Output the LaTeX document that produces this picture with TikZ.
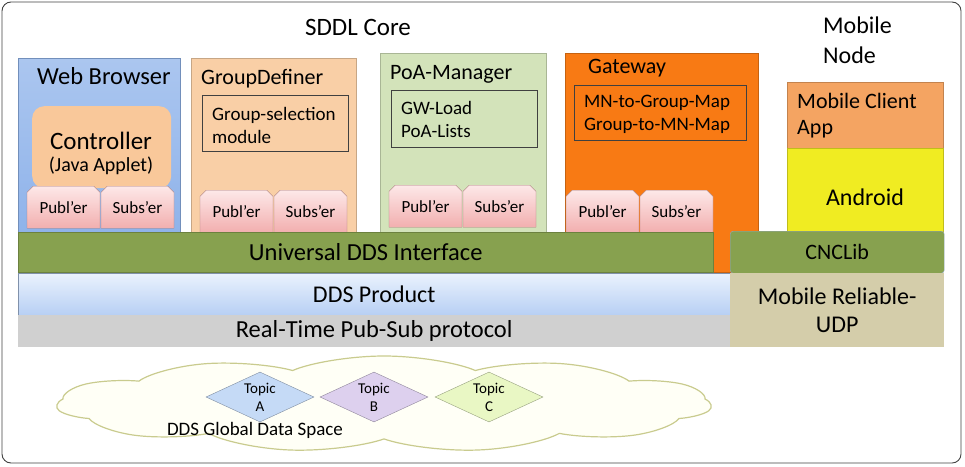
\documentclass[tikz,border=0pt]{standalone}
\usepackage{fontspec}
\setmainfont{Carlito}
\usetikzlibrary{shapes.geometric,shapes.misc,shapes.symbols}
\definecolor{webblue}{HTML}{8FB3EA}
\definecolor{ctrlpeach}{HTML}{F9C89A}
\definecolor{gdpeach}{HTML}{F9CFA6}
\definecolor{poagreen}{HTML}{D3E3BA}
\definecolor{gworange}{HTML}{F87A14}
\definecolor{pubtop}{HTML}{FDE8E8}
\definecolor{pubbot}{HTML}{F2AFAF}
\definecolor{unigreen}{HTML}{87A14F}
\definecolor{ddstop}{HTML}{EAF2FD}
\definecolor{ddsbot}{HTML}{B7CFF4}
\definecolor{rtgray}{HTML}{D0D0D0}
\definecolor{mrudp}{HTML}{D4CDAA}
\definecolor{appor}{HTML}{F4A462}
\definecolor{andyel}{HTML}{F0EC22}
\definecolor{cloudline}{HTML}{C9CB8E}
\definecolor{cloudfill}{HTML}{FFFFF6}
\definecolor{topicA}{HTML}{C5DAF6}
\definecolor{topicB}{HTML}{DDD0EE}
\definecolor{topicC}{HTML}{E9F7C4}
\tikzset{
  big/.style={font=\fontsize{24}{28}\selectfont, inner sep=0pt},
  title/.style={font=\fontsize{22}{26}\selectfont, inner sep=0pt, anchor=west, align=left},
  mid/.style={font=\fontsize{19}{23}\selectfont, inner sep=0pt},
  part/.style={draw=#1!80!black, fill=#1, inner sep=0pt, anchor=north west},
  inbox/.style={draw=black!75, line width=0.8pt, inner sep=0pt, anchor=north west},
  tab/.style={chamfered rectangle, chamfered rectangle corners={north west, north east},
    chamfered rectangle xsep=3pt, draw=pubbot!70!black, top color=pubtop, bottom color=pubbot,
    minimum width=73pt, minimum height=42pt, inner sep=0pt, anchor=north,
    font=\fontsize{17}{20}\selectfont},
  bar/.style={inner sep=0pt, anchor=north west, font=\fontsize{24.5}{28}\selectfont, align=center},
  topic/.style={diamond, aspect=2.1, minimum width=108pt, minimum height=50pt, inner sep=0pt,
    draw=#1!65!black, fill=#1, align=center, font=\fontsize{15}{18}\selectfont}
}
\begin{document}
\begin{tikzpicture}[x=1pt,y=-1pt]
  \useasboundingbox (0,0) rectangle (965,466);
  \draw[rounded corners=9pt, draw=black!75, line width=0.9pt] (2,2) rectangle (961,463);
  \node[big, font=\fontsize{25}{28}\selectfont] (sddl) at (358,27) {SDDL Core};
  \node[title, font=\fontsize{24}{30}\selectfont] (mobnode) at (823,40) {Mobile\\Node};

  \node[part=webblue, top color=webblue!75!white, bottom color=webblue, minimum width=162pt,
    minimum height=175pt] (web) at (18,58) {};
  \node[part=gdpeach, minimum width=165pt, minimum height=175pt] (gdef) at (191,58) {};
  \node[part=poagreen, minimum width=166pt, minimum height=180pt] (poa) at (380,53) {};
  \node[part=gworange, minimum width=193pt, minimum height=219pt] (gw) at (565,53) {};
  \node[part=appor, minimum width=156pt, minimum height=66pt] (app) at (787,82) {};
  \node[part=andyel, minimum width=156pt, minimum height=84pt] (andr) at (787,148) {};

  \node[title, font=\fontsize{24.5}{28}\selectfont] (webt) at (37,76) {Web Browser};
  \node[title] (gdeft) at (201,79) {GroupDefiner};
  \node[title] (poat) at (390,74) {PoA-Manager};
  \node[title] (gwt) at (588,68) {Gateway};
  \node[title] (appt) at (797,116) {Mobile Client\\App};
  \node[big] (andrt) at (865,197) {Android};

  \node[fill=ctrlpeach, rounded corners=12pt, minimum width=139pt, minimum height=82pt,
    anchor=north west] (ctrl) at (32,106) {};
  \node[big, font=\fontsize{25}{28}\selectfont] (ctrlt) at (101,141) {Controller};
  \node[mid, font=\fontsize{20}{24}\selectfont] (ctrlj) at (101,166) {(Java Applet)};

  \node[inbox, minimum width=146pt, minimum height=56pt] (gsel) at (202,95) {};
  \node[mid, anchor=west, align=left] (gselt) at (212,125.5) {Group-selection\\module};
  \node[inbox, minimum width=146pt, minimum height=57pt] (lists) at (391,90) {};
  \node[mid, anchor=west, align=left] (listst) at (401,119.5) {GW-Load\\PoA-Lists};
  \node[inbox, minimum width=172pt, minimum height=55pt] (maps) at (574,85) {};
  \node[mid, anchor=west, align=left] (mapst) at (584,114.5) {MN-to-Group-Map\\Group-to-MN-Map};

  \foreach \x/\y/\i in {27/186/web, 200/190/gdef, 389/185/poa, 566/190/gw}{
    \node[tab] (P\i) at (\x+36.5,\y) {Publ’er};
    \node[tab] (S\i) at (\x+110.5,\y) {Subs’er};
  }

  \node[bar, fill=unigreen, draw=unigreen!80!black, minimum width=695pt, minimum height=40pt]
    (udi) at (18,232) {Universal DDS Interface};
  \node[bar, fill=unigreen, draw=ddsbot!80!black, rounded corners=3pt, minimum width=214pt,
    minimum height=42pt, font=\fontsize{22}{26}\selectfont] (cnc) at (730,231) {CNCLib};
  \node[bar, top color=ddstop, bottom color=ddsbot, draw=ddsbot!70!black, minimum width=712pt,
    minimum height=42pt, font=\fontsize{24}{28}\selectfont] (dds) at (18,273) {DDS Product};
  \node[bar, fill=rtgray, minimum width=712pt, minimum height=32pt] (rtps) at (18,315)
    {Real-Time Pub-Sub protocol};
  \node[bar, fill=mrudp, minimum width=214pt, minimum height=74pt, font=\fontsize{24}{28}\selectfont]
    (mrudp) at (730,273) {Mobile Reliable-\\UDP};

  \node[cloud, cloud puffs=11, cloud puff arc=110, aspect=2, draw=cloudline, fill=cloudfill,
    line width=1.2pt, minimum width=200pt, minimum height=96pt, xscale=3.28] (space) at (384,404) {};
  \foreach \c/\x/\t in {topicA/260/A, topicB/374/B, topicC/489/C}{
    \node[topic=\c] (T\t) at (\x,397) {Topic\\\t};
  }
  \node[mid, font=\fontsize{19}{22}\selectfont] (spacet) at (255,430) {DDS Global Data Space};
\end{tikzpicture}
\end{document}
